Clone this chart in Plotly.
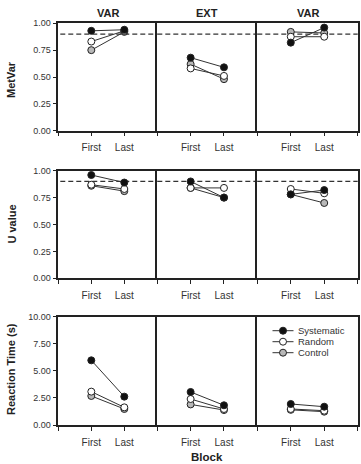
import plotly.graph_objects as go

# ---------------- data ----------------
blocks = ["First", "Last"]
block_pos = [1, 2]
conditions = ["VAR", "EXT", "VAR"]
groups = ["Systematic", "Random", "Control"]
criterion = 0.9

metvar_sys = [[0.93, 0.94], [0.68, 0.59], [0.82, 0.96]]
metvar_rand = [[0.83, 0.93], [0.58, 0.51], [0.875, 0.875]]
metvar_ctrl = [[0.75, 0.92], [0.62, 0.48], [0.92, 0.91]]

uval_sys = [[0.96, 0.89], [0.90, 0.75], [0.78, 0.82]]
uval_rand = [[0.87, 0.83], [0.84, 0.84], [0.83, 0.79]]
uval_ctrl = [[0.86, 0.81], [0.84, 0.75], [0.78, 0.70]]

rt_sys = [[5.97, 2.62], [3.05, 1.82], [1.94, 1.69]]
rt_rand = [[3.08, 1.63], [2.40, 1.48], [1.48, 1.32]]
rt_ctrl = [[2.68, 1.48], [1.90, 1.38], [1.40, 1.23]]

row_titles = ["MetVar", "U value", "Reaction Time (s)"]
y_ticks_01 = [0, 0.25, 0.5, 0.75, 1.0]
y_ticks_rt = [0, 2.5, 5.0, 7.5, 10.0]

# ---------------- style ----------------
W, H = 361, 464
FONT = "Liberation Sans, Arial, Helvetica, sans-serif"
INK = "#222222"
col_px = [(58.3, 157.3), (157.3, 257.3), (257.3, 357.7)]
row_px = [(23.3, 130.7), (170.7, 278.3), (316.7, 425.0)]
fills = {"Systematic": "#111111", "Random": "#ffffff", "Control": "#b8b8b8"}

rows = [
    {"Systematic": metvar_sys, "Random": metvar_rand, "Control": metvar_ctrl,
     "range": [0, 1], "ticks": y_ticks_01, "crit": True},
    {"Systematic": uval_sys, "Random": uval_rand, "Control": uval_ctrl,
     "range": [0, 1], "ticks": y_ticks_01, "crit": True},
    {"Systematic": rt_sys, "Random": rt_rand, "Control": rt_ctrl,
     "range": [0, 10], "ticks": y_ticks_rt, "crit": False},
]

fig = go.Figure()
layout = {}
shapes = []
annotations = []

for r, rowd in enumerate(rows):
    for c in range(3):
        idx = r * 3 + c + 1
        xs = "" if idx == 1 else str(idx)
        xname, yname = "xaxis" + xs, "yaxis" + xs
        x0, x1 = col_px[c]
        y0, y1 = row_px[r]
        layout[xname] = dict(
            domain=[x0 / W, x1 / W], range=[0, 3], anchor="y" + xs,
            tickvals=[0, 1, 2, 3], ticktext=["", blocks[0], blocks[1], ""],
            ticks="outside", ticklen=4, tickwidth=1, tickcolor=INK,
            showline=True, mirror=True, linecolor=INK, linewidth=1.5,
            showgrid=False, zeroline=False, fixedrange=True, automargin=False,
            tickfont=dict(family=FONT, size=10, color="#333333"),
            ticklabelstandoff=3,
        )
        layout[yname] = dict(
            domain=[1 - y1 / H, 1 - y0 / H], range=rowd["range"], anchor="x" + xs,
            tickvals=rowd["ticks"], tickformat=".2f",
            ticks="outside" if c == 0 else "", ticklen=4, tickwidth=1, tickcolor=INK,
            showticklabels=(c == 0), automargin=False,
            showline=True, mirror=(c == 2), linecolor=INK, linewidth=1.5,
            showgrid=False, zeroline=False, fixedrange=True,
            tickfont=dict(family=FONT, size=9, color="#333333"),
        )
        for g in ["Control", "Random", "Systematic"]:
            fig.add_trace(go.Scatter(
                x=block_pos, y=rowd[g][c], mode="lines+markers",
                xaxis="x" + xs, yaxis="y" + xs, showlegend=False, name=g,
                line=dict(color="#333333", width=1),
                marker=dict(size=7, color=fills[g], line=dict(color="#222222", width=1)),
                cliponaxis=False,
            ))
        if rowd["crit"]:
            shapes.append(dict(
                type="line", xref="x" + xs + " domain", yref="y" + xs,
                x0=0.02 if c == 0 else 0, x1=1, y0=criterion, y1=criterion,
                line=dict(color="#333333", width=1.2, dash="5px,3px"), layer="below",
            ))

# column titles
for c, name in enumerate(conditions):
    annotations.append(dict(
        text="<b>" + name + "</b>", xref="paper", yref="paper",
        x=(col_px[c][0] + col_px[c][1]) / 2 / W, y=1 - 13 / H,
        xanchor="center", yanchor="middle",
        showarrow=False, font=dict(family=FONT, size=11, color=INK),
    ))

# row titles
row_title_y = [80, 224.5, 369]
for r, t in enumerate(row_titles):
    annotations.append(dict(
        text="<b>" + t + "</b>", xref="paper", yref="paper",
        x=11 / W, y=1 - row_title_y[r] / H, textangle=-90,
        xanchor="center", yanchor="middle",
        showarrow=False, font=dict(family=FONT, size=11, color=INK),
    ))

annotations.append(dict(
    text="<b>Block</b>", xref="paper", yref="paper",
    x=207 / W, y=1 - 456.5 / H, xanchor="center", yanchor="middle",
    showarrow=False, font=dict(family=FONT, size=11.5, color=INK),
))

# custom legend (in bottom-right panel)
leg_y = [330.7, 341.7, 352.7]
for g, ly in zip(groups, leg_y):
    yp = 1 - ly / H
    shapes.append(dict(type="line", xref="paper", yref="paper",
                       x0=272.5 / W, x1=293.5 / W, y0=yp, y1=yp,
                       line=dict(color="#333333", width=1)))
    shapes.append(dict(type="circle", xref="paper", yref="paper",
                       x0=279.5 / W, x1=286.5 / W, y0=yp - 3.5 / H, y1=yp + 3.5 / H,
                       fillcolor=fills[g], line=dict(color="#222222", width=1)))
    annotations.append(dict(
        text=g, xref="paper", yref="paper", x=295.5 / W, y=yp,
        xanchor="left", yanchor="middle", showarrow=False,
        font=dict(family=FONT, size=9.5, color="#333333"),
    ))

fig.update_layout(
    template="none",
    width=W, height=H, margin=dict(l=0, r=0, t=0, b=0, pad=0),
    paper_bgcolor="white", plot_bgcolor="white",
    showlegend=False, shapes=shapes, annotations=annotations,
    font=dict(family=FONT), **layout,
)

fig.write_html("out.html", config={"displayModeBar": False})
